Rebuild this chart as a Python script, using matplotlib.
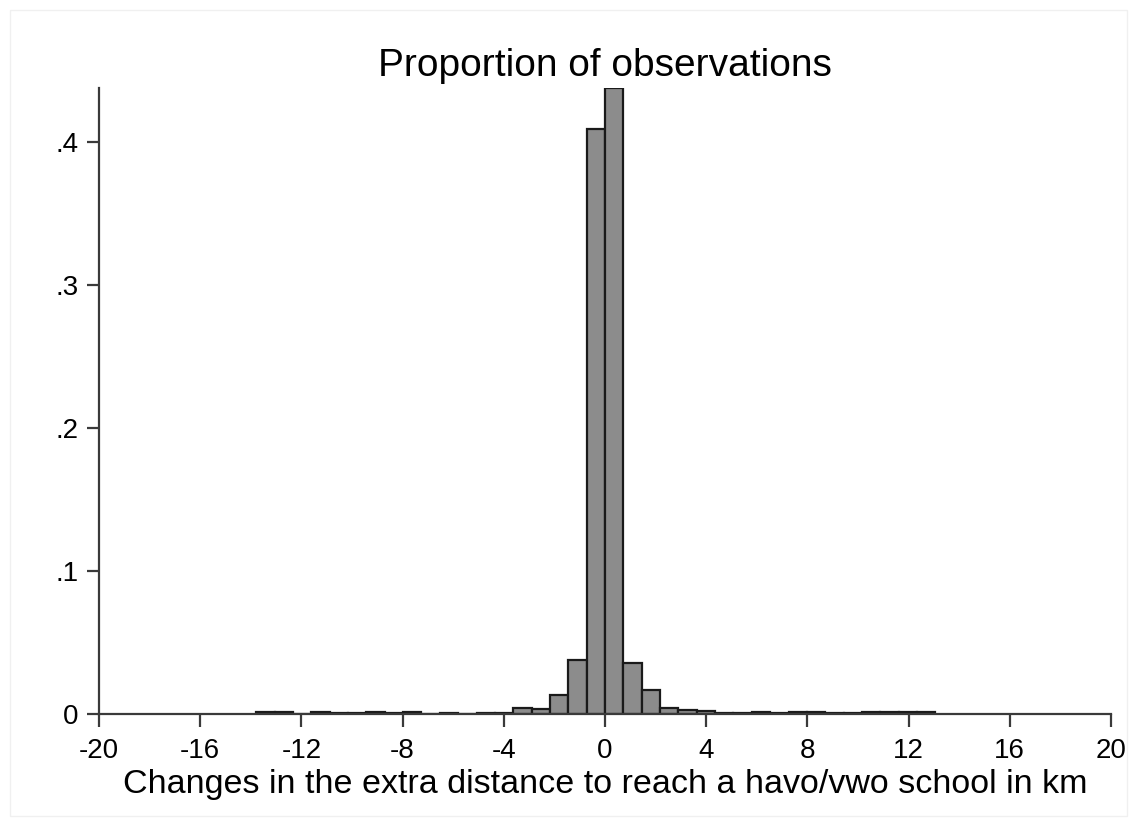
import numpy as np
import matplotlib
matplotlib.use("Agg")
import matplotlib.pyplot as plt
from matplotlib.patches import Rectangle

plt.rcParams['font.family'] = ['Liberation Sans', 'DejaVu Sans']

# histogram bins (index k -> left edge k*bin_width), proportion per bin
bin_width = 0.7255
bin_index = list(range(-19, 18))
proportion = [0.0012, 0.0012, 0.0, 0.0012, 0.0008, 0.0010, 0.0012, 0.0010, 0.0012, 0.0,
              0.0010, 0.0003, 0.0008, 0.0010, 0.0040, 0.0035, 0.0135, 0.0375, 0.4095,
              0.4378, 0.0360, 0.0165, 0.0040, 0.0027, 0.0020, 0.0008, 0.0008, 0.0012,
              0.0008, 0.0012, 0.0012, 0.0010, 0.0010, 0.0012, 0.0012, 0.0012, 0.0012]

x_ticks = list(range(-20, 21, 4))
y_ticks = [0, 0.1, 0.2, 0.3, 0.4]
y_labels = ["0", ".1", ".2", ".3", ".4"]

left_edges = np.array(bin_index) * bin_width

fig = plt.figure(figsize=(11.37, 8.26), dpi=100)
ax = fig.add_axes([0.0871, 0.1356, 0.890, 0.7575])

ax.bar(left_edges, proportion, width=bin_width, align="edge",
       color="#8c8c8c", edgecolor="#1a1a1a", linewidth=1.6)

ax.set_xlim(-20, 20)
ax.set_ylim(0, max(proportion))
ax.set_xticks(x_ticks)
ax.set_xticklabels([str(t) for t in x_ticks])
ax.set_yticks(y_ticks)
ax.set_yticklabels(y_labels)

for s in ["top", "right"]:
    ax.spines[s].set_visible(False)
for s in ["left", "bottom"]:
    ax.spines[s].set_color("#3a3a3a")
    ax.spines[s].set_linewidth(1.6)

ax.tick_params(axis="both", direction="out", length=9, width=1.6,
               color="#3a3a3a", labelsize=20)
ax.tick_params(axis="x", pad=8)
ax.tick_params(axis="y", pad=6)

ax.set_title("Proportion of observations", fontsize=28, pad=9)
ax.set_xlabel("Changes in the extra distance to reach a havo/vwo school in km",
              fontsize=24.5, labelpad=4)

fig.patches.append(Rectangle((0.009, 0.012), 0.982, 0.976, transform=fig.transFigure,
                             fill=False, edgecolor="#f0f0f0", linewidth=1))

fig.savefig("out.png", dpi=100, facecolor="white")
